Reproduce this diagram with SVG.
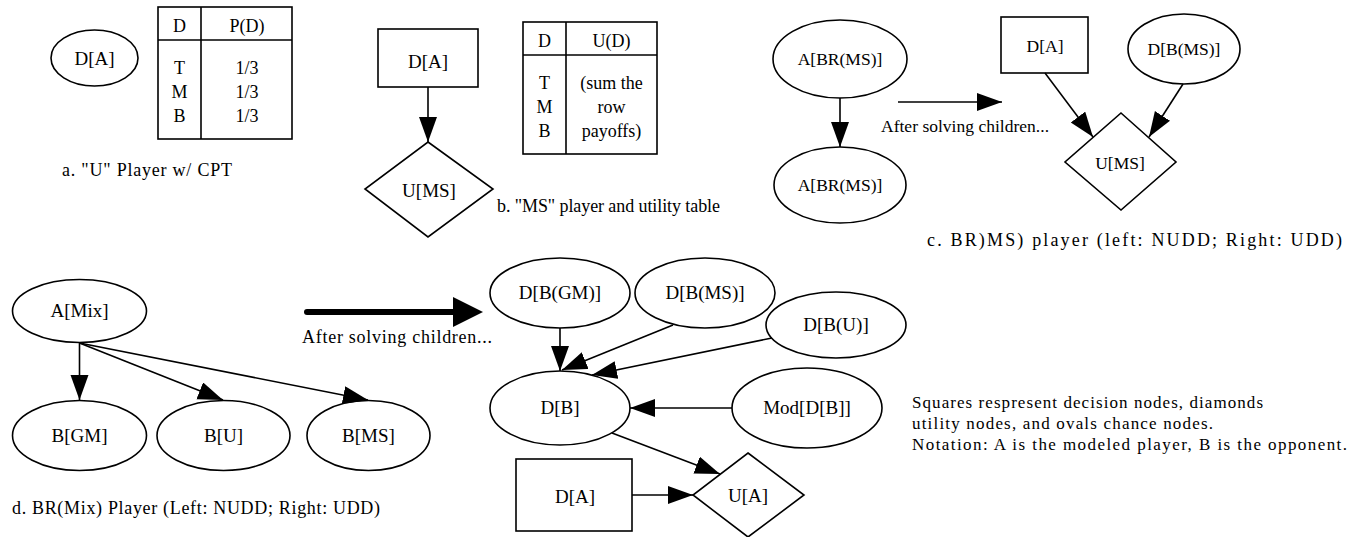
<svg xmlns="http://www.w3.org/2000/svg" width="1360" height="537" viewBox="0 0 1360 537" font-family="Liberation Serif, Times New Roman, serif">
<defs>
<style>
.s{fill:none;stroke:#000;stroke-width:1.6}
.e{fill:none;stroke:#000;stroke-width:1.6}
text{font-family:'Liberation Serif','Times New Roman',serif;font-size:18px;fill:#000}
.m{text-anchor:middle}
.n{font-size:19px}
.c{font-size:17.5px}
.t{font-size:17px}
</style>
<marker id="ah" markerUnits="userSpaceOnUse" markerWidth="26" markerHeight="20" refX="25" refY="9" orient="auto" viewBox="0 0 26 20"><path d="M0,0 L25,9 L0,18 z" fill="#000"/></marker>
</defs>
<rect width="1360" height="537" fill="#fff"/>

<!-- Section a -->
<g id="a-DA"><ellipse class="s" cx="94.5" cy="58" rx="43.5" ry="28"/><text class="m n" x="94.5" y="65">D[A]</text></g>
<g id="a-table">
<rect class="s" x="158" y="7" width="134" height="132"/>
<line class="s" x1="158" y1="40" x2="292" y2="40"/>
<line class="s" x1="201" y1="7" x2="201" y2="139"/>
<text class="m" x="179.5" y="32">D</text><text class="m" x="247" y="32">P(D)</text>
<text class="m" x="179.5" y="74">T</text><text class="m" x="247" y="74">1/3</text>
<text class="m" x="179.5" y="98">M</text><text class="m" x="247" y="98">1/3</text>
<text class="m" x="179.5" y="122">B</text><text class="m" x="247" y="122">1/3</text>
</g>
<text x="62" y="176" textLength="170" lengthAdjust="spacing">a. "U" Player w/ CPT</text>

<!-- Section b -->
<g id="b-DA"><rect class="s" x="378" y="29" width="100" height="58"/><text class="m n" x="428" y="68">D[A]</text></g>
<g id="b-UMS"><polygon class="s" points="428,142 493,189 428,237 365,189"/><text class="m n" x="429" y="197">U[MS]</text></g>
<g id="b-table">
<rect class="s" x="523" y="22" width="134" height="132"/>
<line class="s" x1="523" y1="55" x2="657" y2="55"/>
<line class="s" x1="566" y1="22" x2="566" y2="154"/>
<text class="m" x="544.5" y="47">D</text><text class="m" x="611.5" y="47">U(D)</text>
<text class="m" x="544.5" y="89">T</text><text class="m" x="611.5" y="89">(sum the</text>
<text class="m" x="544.5" y="113">M</text><text class="m" x="611.5" y="113">row</text>
<text class="m" x="544.5" y="137">B</text><text class="m" x="611.5" y="137">payoffs)</text>
</g>
<text x="497" y="212" textLength="223" lengthAdjust="spacing">b. "MS" player and utility table</text>

<!-- Section c -->
<g id="c-A1"><ellipse class="s" cx="840" cy="59" rx="67" ry="39"/><text class="m c" x="840" y="65">A[BR(MS)]</text></g>
<g id="c-A2"><ellipse class="s" cx="840" cy="185" rx="66" ry="38"/><text class="m c" x="840" y="191">A[BR(MS)]</text></g>
<text class="c" x="881" y="132" textLength="168" lengthAdjust="spacing">After solving children...</text>
<g id="c-DA"><rect class="s" x="1001" y="17" width="87" height="56"/><text class="m c" x="1045" y="52">D[A]</text></g>
<g id="c-DBMS"><ellipse class="s" cx="1184" cy="49" rx="56" ry="35"/><text class="m c" x="1184" y="55">D[B(MS)]</text></g>
<g id="c-UMS"><polygon class="s" points="1121,113 1176,162 1121,210 1065,162"/><text class="m c" x="1120" y="169">U[MS]</text></g>
<text x="927" y="246" textLength="415" lengthAdjust="spacing">c. BR)MS) player (left: NUDD; Right: UDD)</text>

<!-- Section d -->
<g id="d-AMix"><ellipse class="s" cx="79.5" cy="311" rx="67" ry="31.5"/><text class="m n" x="79.5" y="317">A[Mix]</text></g>
<g id="d-BGM"><ellipse class="s" cx="79.5" cy="435.5" rx="67" ry="35"/><text class="m n" x="79.5" y="442">B[GM]</text></g>
<g id="d-BU"><ellipse class="s" cx="223.5" cy="435.5" rx="66.5" ry="35"/><text class="m n" x="223.5" y="442">B[U]</text></g>
<g id="d-BMS"><ellipse class="s" cx="368.5" cy="435.5" rx="61.5" ry="35"/><text class="m n" x="368.5" y="442">B[MS]</text></g>
<text x="302" y="343" textLength="190" lengthAdjust="spacing">After solving children...</text>
<text x="12" y="514" textLength="368" lengthAdjust="spacing">d. BR(Mix) Player (Left: NUDD; Right: UDD)</text>

<g id="d-DBGM"><ellipse class="s" cx="560" cy="293" rx="70" ry="35"/><text class="m n" x="560" y="299">D[B(GM)]</text></g>
<g id="d-DBMS"><ellipse class="s" cx="705" cy="293" rx="70" ry="35"/><text class="m n" x="705" y="299">D[B(MS)]</text></g>
<g id="d-DBU"><ellipse class="s" cx="836" cy="325" rx="70" ry="33"/><text class="m n" x="836" y="331">D[B(U)]</text></g>
<g id="d-DB"><ellipse class="s" cx="560" cy="408" rx="70" ry="37"/><text class="m n" x="560" y="414">D[B]</text></g>
<g id="d-Mod"><ellipse class="s" cx="807" cy="408" rx="75" ry="40"/><text class="m n" x="807" y="414">Mod[D[B]]</text></g>
<g id="d-DA"><rect class="s" x="516" y="459" width="116" height="72"/><text class="m n" x="575" y="503">D[A]</text></g>
<g id="d-UA"><polygon class="s" points="748,453 804,495 748,537 693,495"/><text class="m n" x="748" y="502">U[A]</text></g>

<!-- Notes -->
<g id="notes">
<text class="t" x="912" y="408" textLength="351" lengthAdjust="spacing">Squares respresent decision nodes, diamonds</text>
<text class="t" x="912" y="429" textLength="301" lengthAdjust="spacing">utility nodes, and ovals chance nodes.</text>
<text class="t" x="912" y="450" textLength="435" lengthAdjust="spacing">Notation: A is the modeled player, B is the opponent.</text>
</g>

<!-- Connectors -->
<g id="connectors" class="e" marker-end="url(#ah)">
<line x1="428" y1="87" x2="428" y2="142"/>
<line x1="840" y1="98" x2="840" y2="147"/>
<line x1="898" y1="102" x2="1002" y2="102"/>
<line x1="1045" y1="73" x2="1093" y2="137"/>
<line x1="1183" y1="84" x2="1149" y2="137"/>
<line x1="79.5" y1="343" x2="79.5" y2="400"/>
<line x1="79.5" y1="343" x2="223" y2="400"/>
<line x1="79.5" y1="343" x2="368" y2="400"/>
<line x1="560" y1="328" x2="560" y2="371"/>
<line x1="673" y1="325" x2="562" y2="370"/>
<line x1="772" y1="338" x2="592" y2="375"/>
<line x1="732" y1="408" x2="630" y2="408"/>
<line x1="612" y1="433" x2="720" y2="474"/>
<line x1="632" y1="495" x2="693" y2="495"/>
</g>
<g id="thick-arrow">
<line x1="307" y1="312" x2="456" y2="312" stroke="#000" stroke-width="6" stroke-linecap="round"/>
<polygon points="453,297 483,312 453,327" fill="#000"/>
</g>
</svg>
